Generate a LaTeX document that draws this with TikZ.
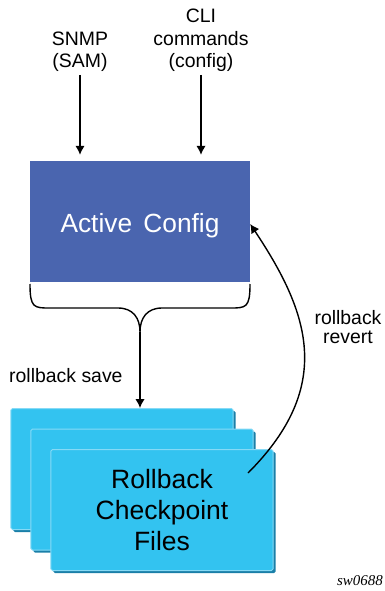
\documentclass[tikz,border=0pt]{standalone}
\usepackage{fontspec}
\setmainfont{Liberation Sans}
\newfontfamily\figfont{Liberation Serif}
\usetikzlibrary{positioning}
\usetikzlibrary{arrows.meta}
\usetikzlibrary{shadows}

\definecolor{cfgblue}{HTML}{4A65AF}
\definecolor{filecyan}{HTML}{33C3F0}
\definecolor{filelight}{HTML}{86DAF6}
\definecolor{fileshade}{HTML}{1A7FA8}

\begin{document}
\begin{tikzpicture}[x=1bp,y=-1bp,
 arr/.style={-{Latex[length=9bp,width=9.5bp]},line width=1.4bp},
 brc/.style={line width=1.4bp},
 lbl/.style={font=\fontsize{19.5}{22.5}\selectfont,align=center,inner sep=0pt},
 cfgbox/.style={fill=cfgblue,text=white,minimum width=220bp,minimum height=121bp,
   font=\fontsize{26.4}{30}\selectfont,text height=21bp,text depth=0bp},
 filebox/.style={fill=filecyan,draw=filelight,line width=1bp,rounded corners=1.5bp,
   minimum width=222bp,minimum height=121bp,align=center,font=\fontsize{26.6}{31.5}\selectfont,
   drop shadow={shadow xshift=2.5bp,shadow yshift=-2.5bp,fill=fileshade,draw=none,opacity=1}}]
 \useasboundingbox (0,0) rectangle (384,591);
 \node[cfgbox] (cfg) at (140,221.5) {Active\hspace{4bp} Config};
 \node[lbl,anchor=south] (snmp) at (80,72) {SNMP\\(SAM)};
 \node[lbl,anchor=south] (cli) at (201,72) {CLI\\commands\\(config)};
 \draw[arr,shorten <=3bp,shorten >=6bp] (snmp.south) -- (snmp.south |- cfg.north);
 \draw[arr,shorten <=3bp,shorten >=6bp] (cli.south) -- (cli.south |- cfg.north);
 \node[filebox] (back) at (122,469) {};
 \node[filebox] (mid) at (142,489.5) {};
 \node[filebox] (front) at (162,510) {Rollback\\Checkpoint\\Files};
 \coordinate (tip) at (140,332);
 \draw[brc] (30,284) .. controls (30,308) and (34,308) .. (50,308) -- (118,308)
   .. controls (133,308) and (140,318) .. (tip)
   .. controls (140,318) and (147,308) .. (162,308) -- (230,308)
   .. controls (246,308) and (250,308) .. (250,284);
 \draw[arr] (tip) -- (tip |- back.north);
 \node[lbl,anchor=base west] (save) at (9,382) {rollback save};
 \coordinate (rvs) at (248,473);
 \draw[arr] (rvs) .. controls (336,385) and (308,311) .. ([yshift=-2.5bp]cfg.east);
 \node[lbl,font=\fontsize{19.5}{19}\selectfont,anchor=south] (revert) at (348,344) {rollback\\revert};
 \node[font=\figfont\itshape\fontsize{15}{18}\selectfont,anchor=base east,inner sep=0pt] (fig) at (383,585) {sw0688};
\end{tikzpicture}
\end{document}
